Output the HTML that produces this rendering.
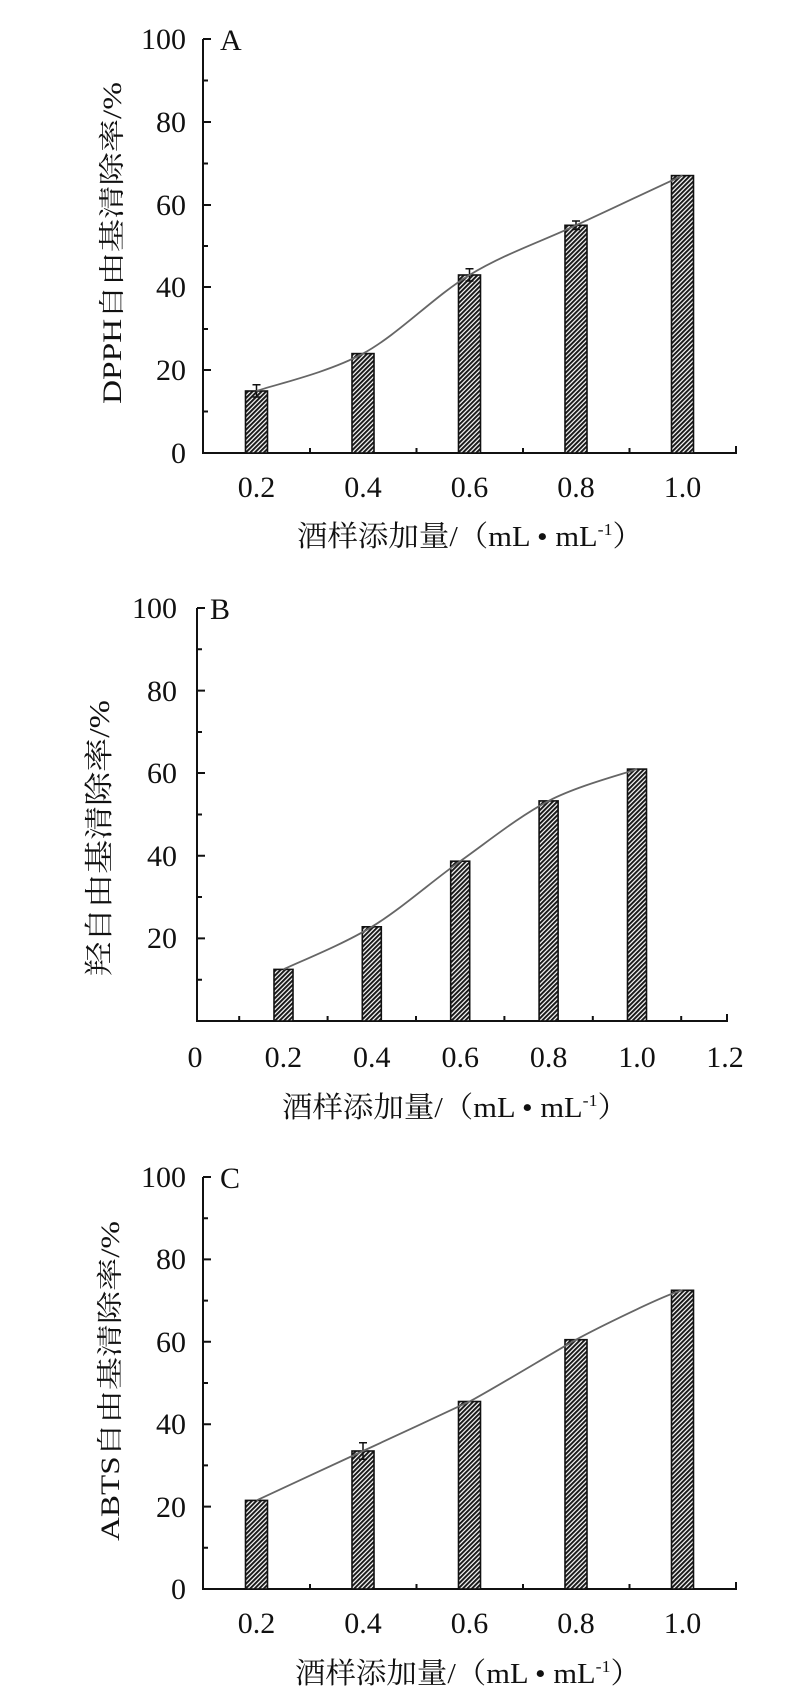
<!DOCTYPE html>
<html><head><meta charset="utf-8"><style>
html,body{margin:0;padding:0;background:#fff}
svg{display:block}
text{font-family:"Liberation Serif","Noto Serif CJK SC","Noto Sans CJK SC",serif;fill:#111}
</style></head><body>
<svg width="787" height="1706" viewBox="0 0 787 1706" xmlns="http://www.w3.org/2000/svg">
<defs>
<pattern id="h" width="3.2" height="3.2" patternUnits="userSpaceOnUse" patternTransform="rotate(-45)">
<rect width="3.2" height="3.2" fill="#fff"/>
<rect width="3.2" height="2" fill="#1a1a1a"/>
</pattern>
</defs>

<!-- ===== Panel A ===== -->
<g stroke="#111" stroke-width="2" fill="none">
<path d="M203 39 V453 H737"/>
<path d="M203 39 h8 M203 122 h8 M203 205 h8 M203 287 h8 M203 370 h8"/>
<path d="M203 80.5 h5 M203 163.5 h5 M203 246 h5 M203 329 h5 M203 411.5 h5"/>
<path d="M310 453 v-5 M416.5 453 v-5 M523 453 v-5 M629.5 453 v-5 M736 453 v-7"/>
</g>
<g fill="url(#h)" stroke="#111" stroke-width="1.6">
<rect x="245.5" y="391" width="22" height="62"/>
<rect x="352" y="353.6" width="22" height="99.4"/>
<rect x="458.5" y="275" width="22" height="178"/>
<rect x="565" y="225.3" width="22" height="227.7"/>
<rect x="671.5" y="175.6" width="22" height="277.4"/>
</g>
<g stroke="#111" stroke-width="1.5">
<path d="M256.5 384.7V397 M252.5 384.7h8 M252.5 397h8"/>
<path d="M469.5 268.8V281 M465.5 268.8h8 M465.5 281h8"/>
<path d="M576 221V229.5 M572 221h8 M572 229.5h8"/>
</g>
<path d="M256.5 391 C274.25 384.8 327.5 372.9 363 353.6 C398.5 334.3 434 296.4 469.5 275 C505 253.6 540.5 241.9 576 225.3 C611.5 208.7 664.75 183.9 682.5 175.6" fill="none" stroke="#666" stroke-width="1.8"/>
<g font-size="30" text-anchor="end">
<text x="186" y="49">100</text><text x="186" y="132">80</text><text x="186" y="215">60</text>
<text x="186" y="297">40</text><text x="186" y="380">20</text><text x="186" y="463">0</text>
</g>
<text x="220" y="50" font-size="30">A</text>
<g font-size="30" text-anchor="middle">
<text x="256.5" y="497">0.2</text><text x="363" y="497">0.4</text><text x="469.5" y="497">0.6</text>
<text x="576" y="497">0.8</text><text x="682.5" y="497">1.0</text>
</g>
<text x="297" y="546" font-size="29" textLength="346" lengthAdjust="spacingAndGlyphs">酒样添加量/（mL • mL<tspan font-size="17" dy="-11">-1</tspan><tspan dy="11">）</tspan></text>
<text transform="translate(121 243) rotate(-90)" font-size="26" text-anchor="middle" textLength="322" lengthAdjust="spacingAndGlyphs">DPPH自由基清除率/%</text>

<!-- ===== Panel B ===== -->
<g stroke="#111" stroke-width="2" fill="none">
<path d="M197 608 V1021 H727 V1014"/>
<path d="M197 608 h8 M197 690.6 h8 M197 773 h8 M197 855.8 h8 M197 938.4 h8"/>
<path d="M197 649.3 h5 M197 732 h5 M197 814.5 h5 M197 897 h5 M197 979.7 h5"/>
<path d="M239.2 1021v-5 M283.4 1021v-5 M327.6 1021v-5 M371.8 1021v-5 M416 1021v-5 M460.2 1021v-5 M504.4 1021v-5 M548.6 1021v-5 M592.8 1021v-5 M637 1021v-5 M681.2 1021v-5"/>
</g>
<g fill="url(#h)" stroke="#111" stroke-width="1.6">
<rect x="274" y="969.4" width="19" height="51.6"/>
<rect x="362.3" y="926.8" width="19" height="94.2"/>
<rect x="450.7" y="861.2" width="19" height="159.8"/>
<rect x="539.1" y="800.9" width="19" height="220.1"/>
<rect x="627.5" y="769.1" width="19" height="251.9"/>
</g>
<path d="M283.4 969.4 C298.1 962.3 342.3 944.8 371.8 926.8 C401.3 908.8 430.7 882.2 460.2 861.2 C489.7 840.2 519.1 816.3 548.6 800.9 C578.1 785.6 622.3 774.4 637 769.1" fill="none" stroke="#666" stroke-width="1.8"/>
<g font-size="30" text-anchor="end">
<text x="177" y="618">100</text><text x="177" y="701">80</text><text x="177" y="783">60</text>
<text x="177" y="866">40</text><text x="177" y="948">20</text>
</g>
<text x="210" y="619" font-size="30">B</text>
<g font-size="30" text-anchor="middle">
<text x="195" y="1067">0</text><text x="283.4" y="1067">0.2</text><text x="371.8" y="1067">0.4</text>
<text x="460.2" y="1067">0.6</text><text x="548.6" y="1067">0.8</text><text x="637" y="1067">1.0</text><text x="725" y="1067">1.2</text>
</g>
<text x="282" y="1117" font-size="29" textLength="346" lengthAdjust="spacingAndGlyphs">酒样添加量/（mL • mL<tspan font-size="17" dy="-11">-1</tspan><tspan dy="11">）</tspan></text>
<text transform="translate(109 838) rotate(-90)" font-size="29" text-anchor="middle" textLength="276" lengthAdjust="spacingAndGlyphs">羟自由基清除率/%</text>

<!-- ===== Panel C ===== -->
<g stroke="#111" stroke-width="2" fill="none">
<path d="M203 1177 V1589 H737"/>
<path d="M203 1177 h8 M203 1259.4 h8 M203 1341.8 h8 M203 1424.2 h8 M203 1506.6 h8"/>
<path d="M203 1218.2 h5 M203 1300.6 h5 M203 1383 h5 M203 1465.4 h5 M203 1547.8 h5"/>
<path d="M310 1589 v-5 M416.5 1589 v-5 M523 1589 v-5 M629.5 1589 v-5 M736 1589 v-7"/>
</g>
<g fill="url(#h)" stroke="#111" stroke-width="1.6">
<rect x="245.5" y="1500.4" width="22" height="88.6"/>
<rect x="352" y="1451" width="22" height="138"/>
<rect x="458.5" y="1401.5" width="22" height="187.5"/>
<rect x="565" y="1339.7" width="22" height="249.3"/>
<rect x="671.5" y="1290.3" width="22" height="298.7"/>
</g>
<g stroke="#111" stroke-width="1.5">
<path d="M363 1442.8V1459.2 M359 1442.8h8 M359 1459.2h8"/>
</g>
<path d="M256.5 1500.4 C274.25 1492.2 345.25 1459 363 1451 C380.75 1442.8 451.75 1410 469.5 1401.5 C487.25 1392.5 558.25 1349.5 576 1339.7 C593.75 1330 664.75 1294.5 682.5 1290.3" fill="none" stroke="#666" stroke-width="1.8"/>
<g font-size="30" text-anchor="end">
<text x="186" y="1187">100</text><text x="186" y="1269">80</text><text x="186" y="1352">60</text>
<text x="186" y="1434">40</text><text x="186" y="1517">20</text><text x="186" y="1599">0</text>
</g>
<text x="220" y="1188" font-size="30">C</text>
<g font-size="30" text-anchor="middle">
<text x="256.5" y="1633">0.2</text><text x="363" y="1633">0.4</text><text x="469.5" y="1633">0.6</text>
<text x="576" y="1633">0.8</text><text x="682.5" y="1633">1.0</text>
</g>
<text x="295" y="1683" font-size="29" textLength="346" lengthAdjust="spacingAndGlyphs">酒样添加量/（mL • mL<tspan font-size="17" dy="-11">-1</tspan><tspan dy="11">）</tspan></text>
<text transform="translate(119 1381) rotate(-90)" font-size="26" text-anchor="middle" textLength="320" lengthAdjust="spacingAndGlyphs">ABTS自由基清除率/%</text>
</svg>
</body></html>
